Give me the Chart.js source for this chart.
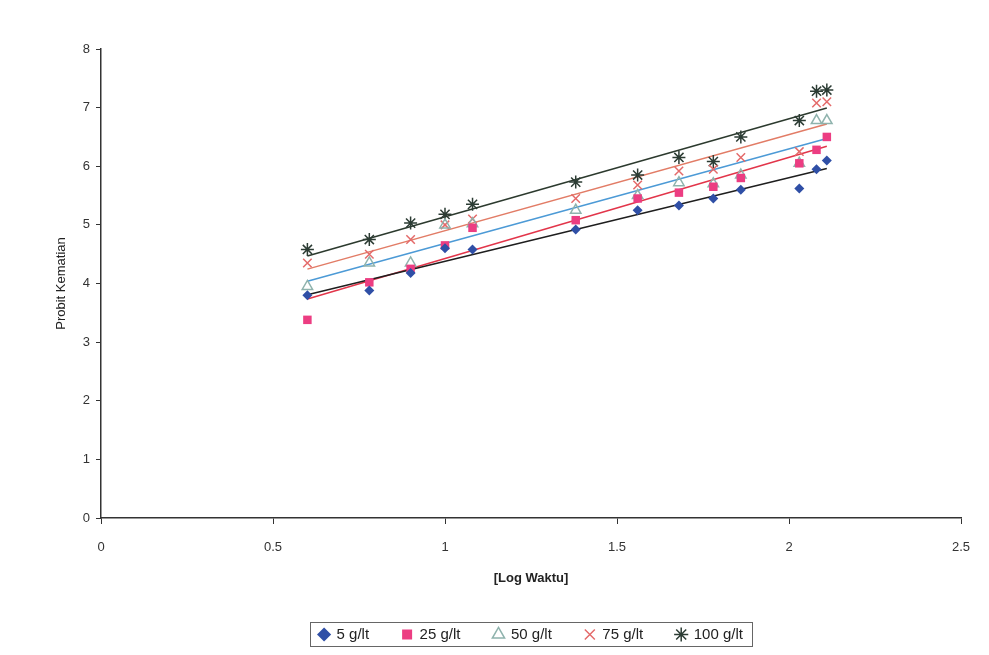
<!DOCTYPE html>
<html lang="id">
<head>
    <meta charset="UTF-8">
    <title>Probit Kematian vs Log Waktu</title>
    <style>
        body {
            margin: 0;
            padding: 0;
            background-color: #ffffff;
        }
        .wrap {
            width: 989px;
            height: 655px;
        }
    </style>
</head>
<body>
    <div class="wrap">
        <canvas id="probitChart" width="989" height="655"></canvas>
    </div>

    <script src="https://cdn.jsdelivr.net/npm/chart.js"></script>
    <script>
        // log waktu (x) shared by all concentrations
        const logWaktu = [0.6, 0.78, 0.9, 1.0, 1.08, 1.38, 1.56, 1.68, 1.78, 1.86, 2.03, 2.08, 2.11];

        // probit kematian for each concentration
        const probit5 = [3.8, 3.88, 4.18, 4.6, 4.58, 4.92, 5.25, 5.33, 5.45, 5.6, 5.62, 5.95, 6.1];
        const probit25 = [3.38, 4.02, 4.25, 4.65, 4.95, 5.08, 5.45, 5.55, 5.65, 5.8, 6.05, 6.28, 6.5];
        const probit50 = [3.95, 4.35, 4.35, 5.0, 5.02, 5.25, 5.5, 5.72, 5.7, 5.85, 6.05, 6.78, 6.78];
        const probit75 = [4.35, 4.5, 4.75, 5.0, 5.1, 5.45, 5.68, 5.92, 5.95, 6.15, 6.25, 7.08, 7.1];
        const probit100 = [4.58, 4.75, 5.03, 5.18, 5.35, 5.73, 5.85, 6.15, 6.08, 6.5, 6.78, 7.28, 7.3];

        const seriesLabels = ['5 g/lt', '25 g/lt', '50 g/lt', '75 g/lt', '100 g/lt'];
        const xTicks = [0, 0.5, 1, 1.5, 2, 2.5];
        const yTicks = [0, 1, 2, 3, 4, 5, 6, 7, 8];

        const allSeries = [probit5, probit25, probit50, probit75, probit100];

        const markerStyles = [
            { pointStyle: 'rectRot', color: '#2f4fa6', fill: '#2f4fa6', radius: 5 },
            { pointStyle: 'rect', color: '#ec3d82', fill: '#ec3d82', radius: 6 },
            { pointStyle: 'triangle', color: '#8fb3ad', fill: 'rgba(255,255,255,0)', radius: 6 },
            { pointStyle: 'crossRot', color: '#e46a6a', fill: '#e46a6a', radius: 6 },
            { pointStyle: 'star', color: '#2c3c34', fill: '#2c3c34', radius: 6.5 }
        ];
        const trendColors = ['#1e1e1e', '#e2354a', '#4c9ad6', '#e27c66', '#2c3a2e'];

        function toPoints(ys) {
            return logWaktu.map((x, i) => ({ x: x, y: ys[i] }));
        }

        // linear trendline over the data range
        function trendline(ys) {
            const n = logWaktu.length;
            let sx = 0, sy = 0, sxy = 0, sxx = 0;
            for (let i = 0; i < n; i++) {
                sx += logWaktu[i];
                sy += ys[i];
                sxy += logWaktu[i] * ys[i];
                sxx += logWaktu[i] * logWaktu[i];
            }
            const slope = (n * sxy - sx * sy) / (n * sxx - sx * sx);
            const icpt = (sy - slope * sx) / n;
            const x0 = Math.min(...logWaktu);
            const x1 = Math.max(...logWaktu);
            return [{ x: x0, y: icpt + slope * x0 }, { x: x1, y: icpt + slope * x1 }];
        }

        const datasets = [];
        allSeries.forEach((ys, i) => {
            datasets.push({
                type: 'line',
                label: 'trend ' + seriesLabels[i],
                data: trendline(ys),
                borderColor: trendColors[i],
                borderWidth: 1.5,
                pointRadius: 0,
                fill: false,
                order: 2
            });
        });
        allSeries.forEach((ys, i) => {
            const m = markerStyles[i];
            datasets.push({
                type: 'scatter',
                label: seriesLabels[i],
                data: toPoints(ys),
                pointStyle: m.pointStyle,
                pointRadius: m.radius,
                borderColor: m.color,
                backgroundColor: m.fill,
                pointBorderWidth: m.pointStyle === 'rect' || m.pointStyle === 'rectRot' ? 0 : 1.5,
                order: 1
            });
        });

        // box round the legend
        const legendBox = {
            id: 'legendBox',
            afterDraw(chart) {
                const lg = chart.legend;
                if (!lg || !lg.legendHitBoxes.length) return;
                const ctx = chart.ctx;
                let minX = Infinity, maxX = -Infinity;
                lg.legendHitBoxes.forEach(b => {
                    minX = Math.min(minX, b.left);
                    maxX = Math.max(maxX, b.left + b.width);
                });
                const hb = lg.legendHitBoxes[0];
                ctx.save();
                ctx.strokeStyle = '#666';
                ctx.lineWidth = 1;
                ctx.strokeRect(Math.round(minX - 9) + 0.5, Math.round(hb.top - 5) + 0.5,
                    Math.round(maxX - minX + 18), 24);
                ctx.restore();
            }
        };

        new Chart(document.getElementById('probitChart'), {
            data: { datasets: datasets },
            plugins: [legendBox],
            options: {
                responsive: false,
                animation: false,
                layout: {
                    padding: { left: 50, right: 28, top: 49, bottom: 9 }
                },
                scales: {
                    x: {
                        type: 'linear',
                        min: 0,
                        max: 2.5,
                        afterBuildTicks: s => { s.ticks = xTicks.map(v => ({ value: v })); },
                        afterFit: s => { s.height = 76; },
                        ticks: {
                            color: '#333',
                            font: { family: 'Liberation Sans', size: 13 },
                            padding: 16,
                            callback: v => String(v)
                        },
                        grid: {
                            drawOnChartArea: false,
                            tickLength: 6,
                            color: '#333'
                        },
                        border: { color: '#333', width: 1.5 },
                        title: {
                            display: true,
                            text: '[Log Waktu]',
                            color: '#222',
                            font: { family: 'Liberation Sans', size: 13, weight: 'bold' },
                            padding: { top: 0, bottom: 8 }
                        }
                    },
                    y: {
                        type: 'linear',
                        min: 0,
                        max: 8,
                        afterBuildTicks: s => { s.ticks = yTicks.map(v => ({ value: v })); },
                        afterFit: s => { s.width = 51; },
                        ticks: {
                            color: '#333',
                            font: { family: 'Liberation Sans', size: 13 },
                            padding: 6
                        },
                        grid: {
                            drawOnChartArea: false,
                            tickLength: 5,
                            color: '#333'
                        },
                        border: { color: '#333', width: 1.5 },
                        title: {
                            display: true,
                            text: 'Probit Kematian',
                            color: '#222',
                            font: { family: 'Liberation Sans', size: 13 },
                            padding: { top: 4, bottom: 0 }
                        }
                    }
                },
                plugins: {
                    legend: {
                        position: 'bottom',
                        fullSize: false,
                        maxHeight: 52,
                        labels: {
                            usePointStyle: true,
                            boxWidth: 10,
                            boxHeight: 10,
                            padding: 33,
                            color: '#222',
                            font: { family: 'Liberation Sans', size: 15 },
                            filter: item => !item.text.startsWith('trend')
                        }
                    },
                    tooltip: { enabled: false }
                }
            }
        });
    </script>
</body>
</html>
